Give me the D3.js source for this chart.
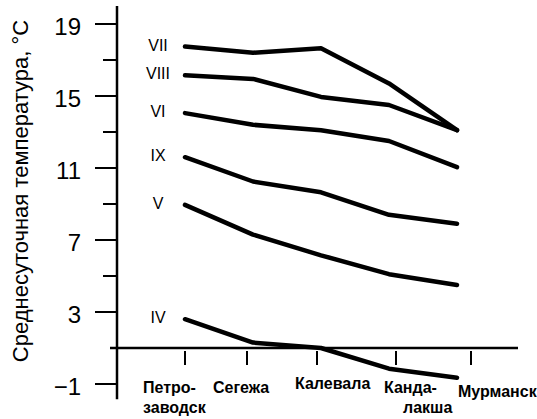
<!DOCTYPE html>
<html>
<head>
<meta charset="utf-8">
<script src="https://cdn.jsdelivr.net/npm/d3@7"></script>
<style>
body { margin: 0; background: #fff; }
text { font-family: Arial, "Liberation Sans", sans-serif; fill: #000; }
</style>
</head>
<body>
<div id="chart"></div>
<script>
var svgWidth = 537;
var svgHeight = 419;

var cities = ["Петрозаводск", "Сегежа", "Калевала", "Кандалакша", "Мурманск"];
var cityLines = [["Петро-", "заводск"], ["Сегежа"], ["Калевала"], ["Канда-", "лакша"], ["Мурманск"]];
var months = ["VII", "VIII", "VI", "IX", "V", "IV"];
var tJul = [17.75, 17.4, 17.65, 15.7, 13.1];
var tAug = [16.15, 15.95, 14.95, 14.5, 13.1];
var tJun = [14.05, 13.4, 13.1, 12.5, 11.05];
var tSep = [11.6, 10.25, 9.65, 8.4, 7.9];
var tMay = [8.95, 7.3, 6.15, 5.1, 4.5];
var tApr = [2.6, 1.3, 1.0, -0.15, -0.65];
var series = [tJul, tAug, tJun, tSep, tMay, tApr];
var yTicks = d3.range(-1, 20, 2);
var yLabels = [19, 15, 11, 7, 3, -1];

var axisX = 117;
var x = d3.scalePoint().domain(cities).range([185, 457]);
var y = d3.scaleLinear().domain([-1, 19]).range([384, 24]);

// the printed ticks and names sit a bit off the data points
var tickShift = [0, -6, -4, 7, 14];
var nameShift = [[-42, -42], [-40], [-26], [-5, 14], [1]];
var nameDrop = [0, 0, -4, 0, 4];

var svg = d3.select("#chart").append("svg")
	.attr("width", svgWidth)
	.attr("height", svgHeight)
	.style("background-color", "white");

// y axis
svg.append("line")
	.attr("x1", axisX).attr("x2", axisX)
	.attr("y1", y(20)).attr("y2", y(-1.85))
	.attr("stroke", "black").attr("stroke-width", 2.5);

svg.append("g").selectAll("line")
	.data(yTicks.filter(function(d){return d !== 1}))
	.enter().append("line")
	.attr("x1", function(d){return yLabels.indexOf(d) >= 0 ? axisX - 22 : axisX - 14})
	.attr("x2", axisX)
	.attr("y1", function(d){return y(d)})
	.attr("y2", function(d){return y(d)})
	.attr("stroke", "black").attr("stroke-width", 2);

svg.append("g").selectAll("text")
	.data(yLabels)
	.enter().append("text")
	.attr("x", axisX - 36)
	.attr("y", function(d){return y(d)})
	.attr("dy", "0.45em")
	.attr("text-anchor", "end")
	.style("font-size", "24px")
	.text(function(d){return d < 0 ? "\u2212" + Math.abs(d) : d});

svg.append("text")
	.attr("transform", "translate(28," + 191 + ") rotate(-90)")
	.attr("text-anchor", "middle")
	.style("font-size", "22px")
	.text("Среднесуточная температура, °C");

// x axis at 1 °C
svg.append("line")
	.attr("x1", axisX - 7).attr("x2", 518)
	.attr("y1", y(1)).attr("y2", y(1))
	.attr("stroke", "black").attr("stroke-width", 2.5);

svg.append("g").selectAll("line")
	.data(cities)
	.enter().append("line")
	.attr("x1", function(d, i){return x(d) + tickShift[i]})
	.attr("x2", function(d, i){return x(d) + tickShift[i]})
	.attr("y1", y(1) + 3)
	.attr("y2", y(1) + 17)
	.attr("stroke", "black").attr("stroke-width", 2);

var names = svg.append("g").selectAll("text")
	.data(cities)
	.enter().append("text")
	.attr("y", function(d, i){return 393 + nameDrop[i]})
	.style("font-size", "16px")
	.style("font-weight", "bold");
names.each(function(d, i) {
	var t = d3.select(this);
	cityLines[i].forEach(function(s, j) {
		t.append("tspan")
			.attr("x", x(d) + nameShift[i][j])
			.attr("dy", j === 0 ? 0 : 20)
			.text(s);
	});
});

// month lines
var line = d3.line()
	.x(function(d, i){return x(cities[i])})
	.y(function(d){return y(d)});

svg.append("g").selectAll("path")
	.data(series)
	.enter().append("path")
	.attr("d", line)
	.attr("fill", "none")
	.attr("stroke", "black")
	.attr("stroke-width", 4.5)
	.attr("stroke-linecap", "round")
	.attr("stroke-linejoin", "round");

svg.append("g").selectAll("text")
	.data(series)
	.enter().append("text")
	.attr("x", x(cities[0]) - 27)
	.attr("y", function(d){return y(d[0]) + 4})
	.attr("text-anchor", "middle")
	.style("font-size", "16px")
	.text(function(d, i){return months[i]});
</script>
</body>
</html>
